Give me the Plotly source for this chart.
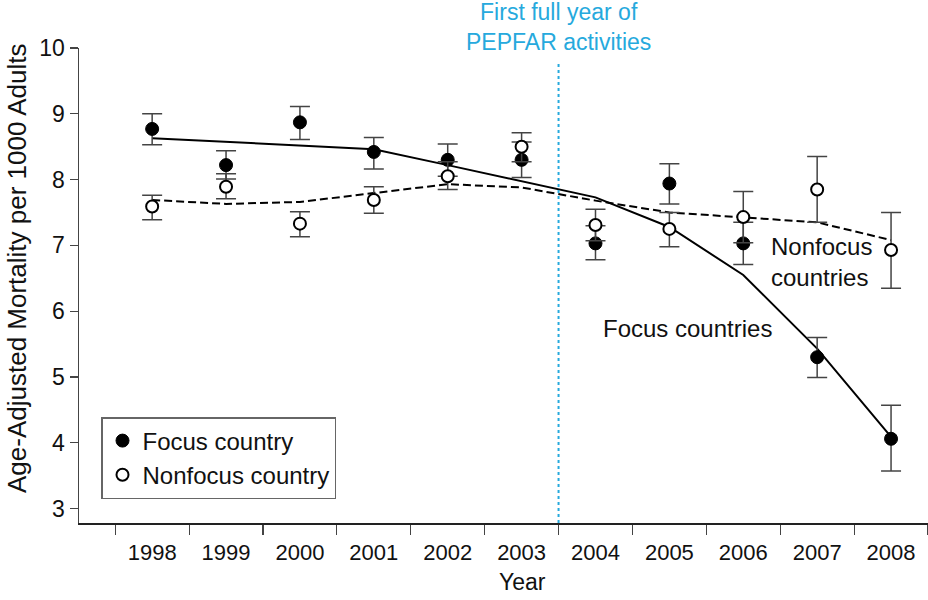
import plotly.graph_objects as go

years = [1998, 1999, 2000, 2001, 2002, 2003, 2004, 2005, 2006, 2007, 2008]

focus = [8.77, 8.22, 8.87, 8.42, 8.30, 8.30, 7.03, 7.94, 7.03, 5.30, 4.06]
focus_hi = [9.00, 8.44, 9.11, 8.64, 8.54, 8.57, 7.30, 8.24, 7.35, 5.60, 4.57]
focus_lo = [8.53, 8.01, 8.61, 8.16, 8.05, 8.03, 6.78, 7.63, 6.71, 4.99, 3.57]

nonfocus = [7.59, 7.89, 7.33, 7.69, 8.05, 8.50, 7.31, 7.25, 7.43, 7.85, 6.93]
nonfocus_hi = [7.76, 8.09, 7.51, 7.89, 8.27, 8.71, 7.55, 7.50, 7.82, 8.35, 7.50]
nonfocus_lo = [7.39, 7.71, 7.13, 7.49, 7.85, 8.27, 7.07, 6.98, 7.04, 7.35, 6.35]

focus_fit = [8.63, 8.57, 8.51, 8.46, 8.22, 7.97, 7.73, 7.28, 6.55, 5.43, 4.09]
nonfocus_fit = [7.69, 7.63, 7.66, 7.79, 7.93, 7.88, 7.68, 7.50, 7.43, 7.35, 7.08]

year_boundaries = [1997.5 + i for i in range(12)]
pepfar_start = 2003.5

FONT = "Liberation Sans, Arial, Helvetica, sans-serif"
AX = "#444444"
BLUE = "#26a9dd"

# plot area occupies pixels x 79..928, y 48..523
def px_x(p):
    return (p - 79) / 849

def px_y(p):
    return (523 - p) / 475

fig = go.Figure()

fig.add_trace(go.Scatter(x=years, y=focus_fit, mode="lines",
                         line=dict(color="black", width=2), showlegend=False, hoverinfo="skip"))
fig.add_trace(go.Scatter(x=years, y=nonfocus_fit, mode="lines",
                         line=dict(color="black", width=2, dash="8px,4px"), showlegend=False, hoverinfo="skip"))

fig.add_trace(go.Scatter(
    x=years, y=focus, mode="markers", name="Focus country",
    marker=dict(symbol="circle", size=13, color="black", line=dict(color="black", width=1)),
    error_y=dict(type="data", symmetric=False,
                 array=[h - v for h, v in zip(focus_hi, focus)],
                 arrayminus=[v - l for v, l in zip(focus, focus_lo)],
                 color=AX, thickness=1.5, width=10)))
fig.add_trace(go.Scatter(
    x=years, y=nonfocus, mode="markers", name="Nonfocus country",
    marker=dict(symbol="circle", size=12, color="white", line=dict(color="black", width=2)),
    error_y=dict(type="data", symmetric=False,
                 array=[h - v for h, v in zip(nonfocus_hi, nonfocus)],
                 arrayminus=[v - l for v, l in zip(nonfocus, nonfocus_lo)],
                 color=AX, thickness=1.5, width=10)))

fig.add_shape(type="line", xref="x", yref="y", x0=pepfar_start, x1=pepfar_start, y0=2.78, y1=9.8,
              line=dict(color=BLUE, width=2, dash="dot"))

fig.add_annotation(text="First full year of<br>PEPFAR activities", xref="x", yref="paper",
                   x=pepfar_start, y=px_y(27), xanchor="center", yanchor="middle", showarrow=False,
                   font=dict(family=FONT, size=23, color=BLUE))
fig.add_annotation(text="Nonfocus<br>countries", xref="paper", yref="paper",
                   x=px_x(769), y=px_y(262), xanchor="left", yanchor="middle",
                   align="left", showarrow=False, font=dict(family=FONT, size=24, color="#111111"))
fig.add_annotation(text="Focus countries", xref="paper", yref="paper",
                   x=px_x(601), y=px_y(328), xanchor="left", yanchor="middle",
                   showarrow=False, font=dict(family=FONT, size=24, color="#111111"))
fig.add_annotation(text="Age-Adjusted Mortality per 1000 Adults", xref="paper", yref="paper",
                   x=px_x(17), y=px_y(269), xanchor="center", yanchor="middle",
                   textangle=-90, showarrow=False, font=dict(family=FONT, size=26, color="#111111"))
fig.add_annotation(text="Year", xref="paper", yref="paper",
                   x=px_x(522), y=px_y(582), xanchor="center", yanchor="middle",
                   showarrow=False, font=dict(family=FONT, size=23, color="#111111"))

fig.update_layout(
    width=928, height=600,
    margin=dict(l=79, r=0, t=48, b=77, autoexpand=False),
    paper_bgcolor="white", plot_bgcolor="white",
    font=dict(family=FONT, color="#111111"),
    showlegend=True,
    legend=dict(x=px_x(101), y=px_y(499), xanchor="left", yanchor="bottom",
                bordercolor="#666666", borderwidth=1.5, bgcolor="white",
                font=dict(family=FONT, size=24, color="#111111"), tracegroupgap=0),
    xaxis=dict(range=[1997.01, 2008.5], tickmode="array", tickvals=years,
               ticktext=[str(y) for y in years], ticks="outside", ticklen=9,
               tickcolor="rgba(0,0,0,0)", tickfont=dict(family=FONT, size=22, color="#111111"),
               showline=True, linecolor="#222222", linewidth=1.5, showgrid=False, zeroline=False,
               automargin=False,
               minor=dict(tickmode="array", tickvals=year_boundaries, ticks="outside", ticklen=10,
                          tickcolor=AX, tickwidth=1.2, showgrid=False)),
    yaxis=dict(range=[2.78, 10], tickmode="array", tickvals=[3, 4, 5, 6, 7, 8, 9, 10],
               ticks="outside", ticklen=8, tickcolor=AX, tickwidth=1.2,
               tickfont=dict(family=FONT, size=23, color="#111111"), automargin=False,
               showline=True, linecolor=AX, linewidth=1.5, showgrid=False, zeroline=False),
)

fig.write_html("out.html",
               config={"displayModeBar": False, "staticPlot": True},
               post_script="document.body.style.margin='0px';document.body.style.overflow='hidden';")
